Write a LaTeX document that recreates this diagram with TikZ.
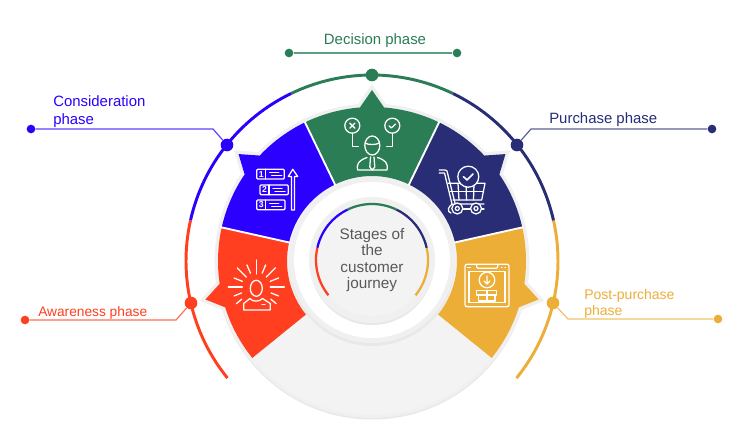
\documentclass[tikz,border=0pt]{standalone}
\usepackage{fontspec}
\setmainfont{Liberation Sans}
\usetikzlibrary{positioning,arrows.meta}

\definecolor{cgreen}{HTML}{2B7D56}
\definecolor{cblue}{HTML}{2C00FF}
\definecolor{cnavy}{HTML}{282D76}
\definecolor{cred}{HTML}{FF3F1F}
\definecolor{cyellow}{HTML}{EDAE38}
\definecolor{chalo}{HTML}{F0F0F0}
\definecolor{cdisk}{HTML}{F3F3F3}
\definecolor{cshade}{HTML}{E8E8E8}
\definecolor{ctext}{HTML}{595959}

% one wedge of the ring with its pointed tip
\newcommand{\petal}[3]{
  (#1:85) -- (#1:154)
  arc[start angle=#1, end angle=#3-4.5, radius=154] -- (#3:171) -- (#3+4.5:154)
  arc[start angle=#3+4.5, end angle=#2, radius=154] -- (#2:85)
  arc[start angle=#2, end angle=#1, radius=85] -- cycle}

\begin{document}
\begin{tikzpicture}[
    x=0.75pt, y=0.75pt,
    bigdot/.style={circle, fill=#1, inner sep=0pt, minimum size=9.5pt},
    enddot/.style={circle, fill=#1, inner sep=0pt, minimum size=6.5pt},
    leader/.style={draw=#1!75!white, line width=0.9pt},
    phase/.style={font=\fontsize{11.2}{13.5}\selectfont, align=left, inner sep=0pt, text=#1},
    icon/.style={draw=white, line width=0.95pt, line join=round, line cap=round},
    digit/.style={font=\bfseries\fontsize{6.5}{7}\selectfont, text=white, inner sep=0pt}
  ]
  \useasboundingbox (0,0) rectangle (750,-434);
  \fill[white] (0,0) rectangle (750,-434);

  % disc and wedges
  \begin{scope}[shift={(372,-261)}]
    \fill[cshade] (0,-1.5) circle[radius=157];
    \fill[chalo] (0,0) circle[radius=157];
    \foreach \col/\a/\b/\t in {cyellow/-39/12.6/-13, cnavy/12.6/64.2/38.7, cgreen/64.2/115.8/90,
                               cblue/115.8/167.4/141.3, cred/167.4/219/193} {
      \draw[chalo, line width=5pt, miter limit=10] \petal{\a}{\b}{\t};
    }
    \fill[cdisk] (0,0) circle[radius=154];
    \foreach \col/\a/\b/\t in {cyellow/-39/12.6/-13, cnavy/12.6/64.2/38.7, cgreen/64.2/115.8/90,
                               cblue/115.8/167.4/141.3, cred/167.4/219/193} {
      \fill[\col] \petal{\a}{\b}{\t};
      \draw[\col, line width=2.2pt] (\a:186) arc[start angle=\a, end angle=\b, radius=186];
    }
    \foreach \a in {12.6,64.2,115.8,167.4} {
      \draw[white, line width=1.4pt] (\a:84) -- (\a:155);
    }
    % centre rings
    \fill[cshade] (0,-2) circle[radius=83];
    \fill[chalo] (0,1) circle[radius=83];
    \fill[white] (0,1) circle[radius=78];
    \fill[cshade] (0,-2) circle[radius=62];
    \fill[chalo] (0,1) circle[radius=63];
    \fill[cdisk] (0,1) circle[radius=56];
    \foreach \col/\a/\b in {cyellow/-39/12.6, cnavy/12.6/64.2, cgreen/64.2/115.8,
                            cblue/115.8/167.4, cred/167.4/219} {
      \draw[\col, line width=1.7pt] (0,1) ++(\a:56) arc[start angle=\a, end angle=\b, radius=56];
    }
  \end{scope}

  \node[align=center, inner sep=0pt, text=ctext, font=\fontsize{11.5}{12.2}\selectfont] (title) at (372,-260)
    {Stages of\\the\\customer\\journey};

  % dots on the outer arc
  \node[bigdot=cgreen] (decision) at (372,-75) {};
  \node[bigdot=cblue] (consideration) at (227,-145) {};
  \node[bigdot=cnavy] (purchase) at (517,-145) {};
  \node[bigdot=cred] (awareness) at (191,-303) {};
  \node[bigdot=cyellow] (post) at (553,-303) {};

  % leaders
  \node[enddot=cgreen] (decisionL) at (289,-53) {};
  \node[enddot=cgreen] (decisionR) at (457,-53) {};
  \draw[leader=cgreen] (decisionL) -- (decisionR);
  \node[enddot=cblue] (considerationEnd) at (31,-129) {};
  \coordinate (considerationBend) at (213,-129);
  \draw[leader=cblue] (considerationEnd) -- (considerationBend) -- (consideration);
  \node[enddot=cnavy] (purchaseEnd) at (712,-129) {};
  \coordinate (purchaseBend) at (531,-129);
  \draw[leader=cnavy] (purchaseEnd) -- (purchaseBend) -- (purchase);
  \node[enddot=cred] (awarenessEnd) at (25,-320) {};
  \coordinate (awarenessBend) at (176,-320);
  \draw[leader=cred] (awarenessEnd) -- (awarenessBend) -- (awareness);
  \node[enddot=cyellow] (postEnd) at (718,-319) {};
  \coordinate (postBend) at (568,-319);
  \draw[leader=cyellow] (postEnd) -- (postBend) -- (post);

  % labels
  \node[phase=cgreen] (decisionText) at (375,-41) {Decision phase};
  \node[phase=cblue, anchor=west] (considerationText) at (53,-112) {Consideration\\phase};
  \node[phase=cnavy, anchor=west] (purchaseText) at (549,-120) {Purchase phase};
  \node[phase=cred, anchor=west, font=\fontsize{10.3}{12}\selectfont] (awarenessText) at (38,-313) {Awareness phase};
  \node[phase=cyellow, anchor=west, font=\fontsize{10.5}{12}\selectfont] (postText) at (584,-304) {Post-purchase\\phase};

  \begin{scope}[yscale=-1]
    % decision icon
    \draw[icon] (352.3,125.7) circle[radius=7.5];
    \draw[icon] (349.8,123.2) -- (354.8,128.2) (354.8,123.2) -- (349.8,128.2);
    \draw[icon] (352.3,133.2) -- (352.3,146.7) -- (358.3,146.7);
    \draw[icon] (392.3,125.7) circle[radius=7.5];
    \draw[icon] (389,125.9) -- (391.3,128) -- (395.6,124);
    \draw[icon] (392.3,133.2) -- (392.3,146.7) -- (386.7,146.7);
    \draw[icon] (372.3,145.5) ellipse[x radius=7.5, y radius=9.5];
    \draw[icon] (365,143) .. controls (368,145) and (376,145) .. (379.5,143);
    \draw[icon] (357.7,170) .. controls (356,163) and (360,160) .. (367,157.5)
      (387,170) .. controls (388.5,163) and (385,160) .. (377.5,157.5)
      (357.7,170) -- (387,170);
    \draw[icon] (370.5,157) -- (369.8,167) -- (372.3,170) -- (374.8,167) -- (374,157);

    % consideration icon
    \foreach \xa/\ya/\xb/\n in {256.7/169.3/284.3/1, 260/185/288.3/2, 256.7/200/285/3} {
      \draw[icon, rounded corners=0.8pt] (\xa,\ya) rectangle (\xb,\ya+9.7);
      \draw[icon] (\xa+9,\ya) -- (\xa+9,\ya+9.7);
      \draw[icon] (\xa+13,\ya+3.5) -- (\xa+22,\ya+3.5) (\xa+15,\ya+6.5) -- (\xa+25,\ya+6.5);
      \node[digit] (digit\n) at (\xa+4.5,\ya+4.9) {\n};
    }
    \draw[icon] (291.4,210) -- (291.4,176.5) -- (288.3,176.5) -- (292.8,169.3) -- (297.7,176.5)
      -- (294.4,176.5) -- (294.4,210) -- cycle;

    % purchase icon
    \draw[icon] (439.3,170) -- (445,170) .. controls (447,170) and (447,171) .. (447.5,173) -- (455,203);
    \draw[icon] (439.3,173) -- (444.5,173) -- (452,204);
    \draw[icon] (448.3,183.3) -- (485,183.3) -- (481.7,200) -- (453,200);
    \draw[icon] (450.5,191.7) -- (483.3,191.7);
    \foreach \xa/\xb in {458/459,466/466.5,474/473.5} {
      \draw[icon] (\xa,183.3) -- (\xb,200);
    }
    \draw[icon, fill=cnavy] (468.3,176.7) circle[radius=10.5];
    \draw[icon, line width=1.2pt] (463.5,176.7) -- (467,180) -- (473,174);
    \draw[icon] (484,204) -- (455,204) .. controls (447,204) and (447,213) .. (451,213);
    \draw[icon] (463.5,209) -- (470,209) (482,209) -- (484,209);
    \foreach \x in {457.3,476} {
      \draw[icon, fill=cnavy] (\x,208.5) circle[radius=5.5];
      \draw[icon] (\x,208.5) circle[radius=2];
    }

    % awareness icon
    \draw[icon] (256.3,288.3) ellipse[x radius=6, y radius=8];
    \draw[icon] (243.7,310) -- (243.7,303.5) -- (250,298.5) .. controls (252,302) and (260,302) .. (262.5,298.5)
      -- (270.3,303.5) -- (270.3,310) -- cycle;
    \draw[icon] (262,304.5) -- (265,304.5);
    \foreach \ang/\ra/\rb in {-90/13/27, -67/15/24, -45/14/27, -22/15/24, 0/14/28, 180/14/28, -113/15/24,
                              -135/14/27, -158/15/24, 22/16/24, 158/16/24, 40/19/26, 140/19/26} {
      \draw[icon] (256.3,287) ++(\ang:\ra) -- ++(\ang:\rb-\ra);
    }

    % post-purchase icon
    \draw[icon, rounded corners=1.5pt] (465,264.3) rectangle (509,306.7);
    \draw[icon] (469,271.7) rectangle (505,302.7);
    \draw[icon, rounded corners=1pt] (476.7,264.3) -- (476.7,268.3) -- (497.7,268.3) -- (497.7,264.3);
    \draw[icon] (467.5,267.8) -- (470.5,267.8);
    \draw[icon] (501.5,267.8) -- (502,267.8) (505,267.8) -- (505.5,267.8);
    \draw[icon] (487,280) circle[radius=7.8];
    \draw[icon] (487,276) -- (487,284) (484,281) -- (487,284) -- (490,281);
    \draw[icon] (476.7,290.5) -- (496.7,290.5) -- (496.7,295) -- (476.7,295) -- cycle;
    \draw[icon] (478.5,295) -- (478.5,301) -- (495,301) -- (495,295);
    \draw[icon] (487,290.5) -- (487,301);
  \end{scope}
\end{tikzpicture}
\end{document}
